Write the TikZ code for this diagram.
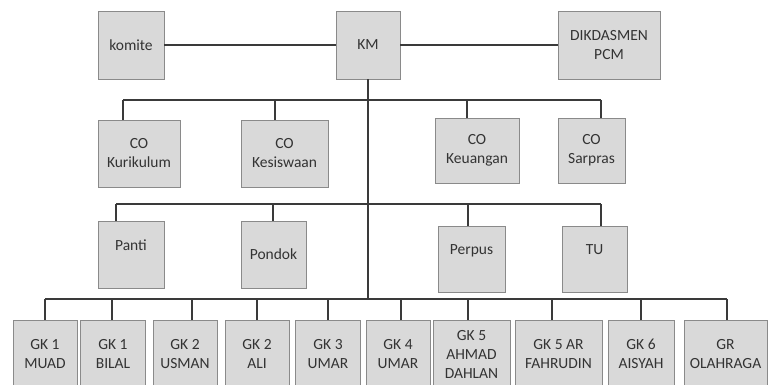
\documentclass[tikz,border=0pt]{standalone}
\usepackage{fontspec}
\setmainfont{Carlito}
\usetikzlibrary{calc}
\definecolor{ChartInk}{HTML}{3A3A3A}
\definecolor{ChartEdge}{HTML}{8A8A8A}
\definecolor{ChartFill}{HTML}{D9D9D9}
\definecolor{ChartText}{HTML}{333333}
\tikzset{
  every node/.style={font=\fontsize{15.5}{19}\selectfont, text=ChartText},
  unit/.style={draw=ChartEdge, line width=0.9pt, fill=ChartFill, align=center, inner sep=0pt},
  link/.style={draw=ChartInk, line width=1.4pt},
}

\begin{document}
\begin{tikzpicture}[x=1pt, y=-1pt]
  \useasboundingbox (0,0) rectangle (768,385);
  % Top row: komite -- KM -- DIKDASMEN
  \node[unit, minimum width=66pt, minimum height=68pt] (komite) at (131,45) {komite};
  \node[unit, minimum width=64pt, minimum height=68pt] (km) at (368,45) {KM};
  \node[unit, minimum width=102pt, minimum height=68pt] (dik) at (609,45) {DIKDASMEN\\PCM};
  \draw[link] (komite.east) -- (km.west);
  \draw[link] (km.east) -- (dik.west);
  % Coordinators
  \node[unit, minimum width=82pt, minimum height=67pt] (kur) at (139,153.5) {CO\\Kurikulum};
  \node[unit, minimum width=87pt, minimum height=67pt] (kes) at (284.5,153.5) {CO\\Kesiswaan};
  \node[unit, minimum width=84pt, minimum height=65pt] (keu) at (477,150.5) {CO\\Keuangan};
  \node[unit, minimum width=67pt, minimum height=65pt] (sar) at (591.5,150.5) {CO\\Sarpras};
  \foreach \n/\x in {kur/123, kes/275, keu/467, sar/601} {
    \coordinate (d\n) at (\x,100);
    \draw[link] (d\n) -- (d\n |- \n.north);
  }
  \draw[link] (dkur) -- (dsar);
  % Units
  \node[unit, minimum width=66pt, minimum height=67pt] (panti) at (131,254.5) {\raisebox{19pt}{Panti}};
  \node[unit, minimum width=65pt, minimum height=67pt] (pondok) at (273.5,254.5) {Pondok};
  \node[unit, minimum width=67pt, minimum height=66pt] (perpus) at (471.5,259) {\raisebox{18pt}{Perpus}};
  \node[unit, minimum width=65pt, minimum height=66pt] (tu) at (594.5,259) {\raisebox{18pt}{TU}};
  \foreach \n/\x in {panti/116, pondok/273, perpus/468, tu/601} {
    \coordinate (d\n) at (\x,204);
    \draw[link] (d\n) -- (d\n |- \n.north);
  }
  \draw[link] (dpanti) -- (dtu);
  % Class teachers
  \foreach \n/\x/\w/\t in {gka/45/64/{GK 1\\MUAD}, gkb/113/65/{GK 1\\BILAL},
      gkc/185/64/{GK 2\\USMAN}, gkd/257/64/{GK 2\\ALI}, gke/328/65/{GK 3\\UMAR},
      gkf/398/64/{GK 4\\UMAR}, gkg/471.5/77/{GK 5\\AHMAD\\DAHLAN},
      gkh/558.5/87/{GK 5 AR\\FAHRUDIN}, gki/641/66/{GK 6\\AISYAH},
      gr/725.5/83/{GR\\OLAHRAGA}}
    \node[unit, minimum width=\w pt, minimum height=68pt] (\n) at (\x,354) {\t};
  \foreach \n/\x in {gka/45, gkb/112, gkc/192, gkd/257, gke/328, gkf/401,
      gkg/468, gkh/552, gki/641, gr/727} {
    \coordinate (d\n) at (\x,299);
    \draw[link] (d\n) -- (d\n |- \n.north);
  }
  \draw[link] (dgka) -- (dgr);
  % Spine from KM
  \draw[link] (km.south) -- (km.south |- dgka);
\end{tikzpicture}
\end{document}
